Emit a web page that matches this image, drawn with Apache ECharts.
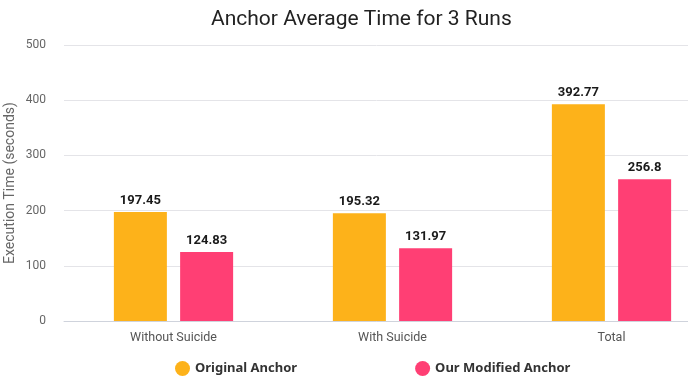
<!DOCTYPE html>
<html><head><meta charset="utf-8">
<script src="https://cdn.jsdelivr.net/npm/echarts@6/dist/echarts.min.js"></script>
<style>html,body{margin:0;padding:0;background:#fff}#c{width:688px;height:385px}</style>
</head><body><div id="c"></div>
<script>
var categories = ["Without Suicide", "With Suicide", "Total"];
var originalAnchor = [197.45, 195.32, 392.77];
var modifiedAnchor = [124.83, 131.97, 256.8];
var seriesNames = ["Original Anchor", "Our Modified Anchor"];
var yTicks = {min: 0, max: 500, interval: 100};

var chart = echarts.init(document.getElementById('c'));
var lbl = {show: true, position: 'top', distance: 5, fontFamily: 'Roboto', fontWeight: 'bold', fontSize: 13, color: '#1a1a1a'};
chart.setOption({
  animation: false,
  title: {text: 'Anchor Average Time for 3 Runs', left: 206, top: 4,
    textStyle: {fontFamily: 'Roboto', fontWeight: 'normal', fontSize: 21, color: '#222'}},
  legend: {bottom: 4, left: 170, itemGap: 118, icon: 'circle', itemWidth: 15, itemHeight: 15,
    textStyle: {fontFamily: 'Noto Sans', fontWeight: 'bold', fontSize: 13, color: '#333'}},
  grid: {left: 64, top: 45, width: 657, height: 276, outerBoundsMode: 'none', containLabel: false},
  xAxis: {type: 'category', data: categories,
    axisLine: {lineStyle: {color: '#cfd3dc'}}, axisTick: {show: false},
    axisLabel: {fontFamily: 'Roboto', fontSize: 12.5, color: '#555', margin: 10}},
  yAxis: {type: 'value', min: yTicks.min, max: yTicks.max, interval: yTicks.interval,
    name: 'Execution Time (seconds)', nameLocation: 'middle', nameGap: 47, nameMoveOverlap: false,
    nameTextStyle: {fontFamily: 'Roboto', fontSize: 14, color: '#666'},
    axisLine: {show: false}, axisTick: {show: false},
    axisLabel: {fontFamily: 'Roboto', fontSize: 12, color: '#666', margin: 18},
    splitLine: {lineStyle: {color: '#e4e4e8'}}},
  series: [
    {name: seriesNames[0], type: 'bar', data: originalAnchor, barWidth: 53, barGap: '25%',
      itemStyle: {color: '#fdb21a'}, label: lbl},
    {name: seriesNames[1], type: 'bar', data: modifiedAnchor, barWidth: 53, barGap: '25%',
      itemStyle: {color: '#ff3f74'}, label: lbl}
  ]
});
</script></body></html>
